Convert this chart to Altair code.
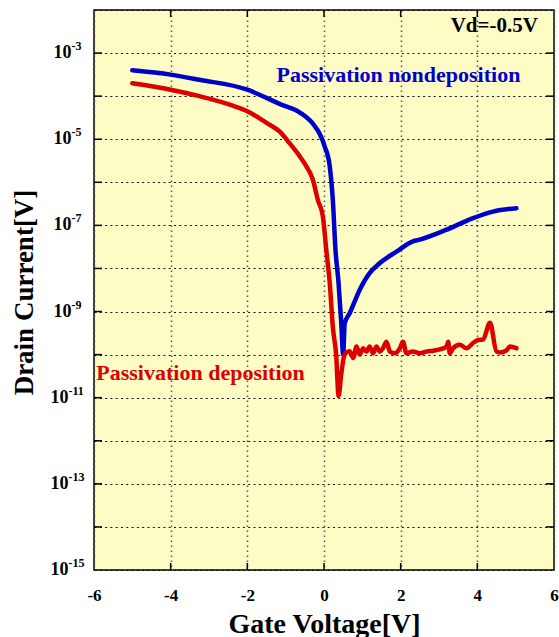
import altair as alt
import pandas as pd

# ---- data (gate voltage [V], log10 of drain current) ----
blue_vg = [-5.0, -4.0, -3.25, -2.0, -1.5, -1.16, -0.63, -0.29, -0.11, 0.02, 0.15, 0.23,
           0.30, 0.38, 0.45, 0.50, 0.54, 0.67, 0.93, 1.19, 1.45, 1.89, 2.32, 2.50, 3.20,
           3.89, 4.41, 5.02]
blue_log = [-3.40, -3.50, -3.62, -3.85, -4.04, -4.18, -4.38, -4.64, -4.88, -5.17, -5.63, -6.41,
            -7.57, -8.34, -9.27, -10.0, -9.27, -9.04, -8.50, -8.11, -7.88, -7.61, -7.37, -7.33, -7.10,
            -6.83, -6.68, -6.60]

red_vg = [-5.0, -4.0, -3.25, -2.38, -2.0, -1.5, -1.16, -0.9, -0.63, -0.46, -0.29, -0.16,
          -0.03, 0.06, 0.15, 0.23, 0.32, 0.38, 0.45, 0.52, 0.58, 0.67, 0.76, 0.85, 0.93,
          1.02, 1.11, 1.19, 1.28, 1.37, 1.45, 1.54, 1.63, 1.72, 1.85, 1.98, 2.06, 2.15,
          2.32, 2.50, 2.67, 2.85, 3.02, 3.20, 3.24, 3.28, 3.37, 3.54, 3.72, 3.89, 4.02,
          4.15, 4.33, 4.50, 4.59, 4.76, 4.85, 5.02]
red_log = [-3.70, -3.85, -4.00, -4.22, -4.35, -4.62, -4.82, -5.09, -5.40, -5.63, -5.94, -6.41,
           -6.79, -7.57, -8.34, -9.35, -10.04, -10.96, -10.45, -10.05, -9.95, -9.92, -10.08, -9.81, -10.0,
           -9.85, -9.93, -9.81, -9.97, -9.81, -9.93, -9.85, -9.70, -9.93, -9.97, -9.85, -9.70, -9.97,
           -9.93, -9.97, -9.93, -9.91, -9.88, -9.81, -9.70, -9.97, -9.85, -9.77, -9.85, -9.73, -9.66,
           -9.65, -9.26, -9.93, -9.95, -9.90, -9.81, -9.85]

x_ticks = [-6, -4, -2, 0, 2, 4, 6]
x_inner_ticks = [-4, -2, 0, 2, 4]
y_grid_exp = list(range(-15, -1))
y_inner_exp = list(range(-14, -2))
y_label_exp = [-3, -5, -7, -9, -11, -13, -15]

annotations = [
    {"text": "Vd=-0.5V", "vg": 5.58, "logi": -2.38, "color": "#000000", "align": "right", "size": 21},
    {"text": "Passivation nondeposition", "vg": -1.24, "logi": -3.50, "color": "#0000cc", "align": "left", "size": 22},
    {"text": "Passivation deposition", "vg": -5.94, "logi": -10.43, "color": "#dd0000", "align": "left", "size": 22},
]

FONT = "Liberation Serif"
W, H = 460, 560

rows = []
for v, l in zip(blue_vg, blue_log):
    rows.append({"series": "nondeposition", "Vg": v, "Id": 10 ** l})
for v, l in zip(red_vg, red_log):
    rows.append({"series": "deposition", "Vg": v, "Id": 10 ** l})
df = pd.DataFrame(rows)

xscale = alt.Scale(domain=[-6, 6], nice=False, zero=False)
yscale = alt.Scale(type="log", domain=[1e-15, 1e-2], nice=False)

base_x = alt.X(
    "Vg:Q", scale=xscale,
    axis=alt.Axis(
        values=x_ticks, title="Gate Voltage[V]", grid=True, ticks=False, domain=False,
        gridDash=[1.5, 3.5], gridColor="#555555", gridWidth=1.5,
        labelExpr="datum.value + ''",
        labelFont=FONT, labelFontWeight="bold", labelFontSize=17, labelColor="black",
        labelPadding=17, labelFlush=False, labelOverlap=False,
        titleFont=FONT, titleFontWeight="bold", titleFontSize=28, titleColor="black",
        titleX=230, titleY=62, titleBaseline="alphabetic",
    ),
)
base_y = alt.Y(
    "Id:Q", scale=yscale,
    axis=alt.Axis(
        values=[10.0 ** e for e in y_grid_exp], labels=False, ticks=False, domain=False,
        grid=True, gridDash=[2, 3.3], gridColor="#111111", gridWidth=1.2,
        title="Drain Current[V]", titleFont=FONT, titleFontWeight="bold", titleFontSize=27,
        titleColor="black", titleX=-70, titleY=282, titleBaseline="middle", titleAngle=-90,
    ),
)

lines = alt.Chart(df).mark_line(strokeWidth=4.5, strokeJoin="round", strokeCap="round",
                                interpolate="monotone").encode(
    x=base_x,
    y=base_y,
    color=alt.Color("series:N", scale=alt.Scale(domain=["nondeposition", "deposition"],
                                                range=["#0000cc", "#dd0000"]), legend=None),
    detail="series:N",
)

# inward frame ticks
ytk = pd.DataFrame({"Id": [10.0 ** e for e in y_inner_exp]})
xtk = pd.DataFrame({"Vg": x_inner_ticks})
tick_style = dict(color="black", strokeWidth=1.5)
left_ticks = alt.Chart(ytk).mark_rule(**tick_style).encode(
    y=alt.Y("Id:Q", scale=yscale), x=alt.value(0), x2=alt.value(8))
right_ticks = alt.Chart(ytk).mark_rule(**tick_style).encode(
    y=alt.Y("Id:Q", scale=yscale), x=alt.value(W - 8), x2=alt.value(W))
top_ticks = alt.Chart(xtk).mark_rule(**tick_style).encode(
    x=alt.X("Vg:Q", scale=xscale), y=alt.value(0), y2=alt.value(7))
bottom_ticks = alt.Chart(xtk).mark_rule(**tick_style).encode(
    x=alt.X("Vg:Q", scale=xscale), y=alt.value(H - 7), y2=alt.value(H))

# y tick labels drawn as "10" + superscript exponent
lab_df = pd.DataFrame({"exp": y_label_exp})
lab_df["Id"] = [10.0 ** e for e in y_label_exp]
lab_df["sup"] = [str(e) for e in y_label_exp]
lab_df["short"] = [len(str(e)) <= 2 for e in y_label_exp]

def ylabels(short, anchor):
    src = alt.Chart(lab_df).transform_filter(
        alt.datum.short if short else ~alt.datum.short)
    ten = src.mark_text(font=FONT, fontWeight="bold", fontSize=18, align="right",
                        baseline="middle", color="black", clip=False).encode(
        x=alt.value(anchor), y=alt.Y("Id:Q", scale=yscale), text=alt.value("10"))
    sup = src.mark_text(font=FONT, fontWeight="bold", fontSize=12, align="left",
                        baseline="middle", color="black", dy=-7, clip=False).encode(
        x=alt.value(anchor), y=alt.Y("Id:Q", scale=yscale), text="sup:N")
    return ten + sup

ann_df = pd.DataFrame(annotations)
ann_df["Id"] = [10 ** v for v in ann_df["logi"]]
ann_layers = []
for _, a in ann_df.iterrows():
    ann_layers.append(
        alt.Chart(ann_df[ann_df["text"] == a["text"]]).mark_text(
            font=FONT, fontWeight="bold", fontSize=int(a["size"]), align=str(a["align"]),
            baseline="middle", color=str(a["color"])).encode(
            x=alt.X("vg:Q", scale=xscale), y=alt.Y("Id:Q", scale=yscale), text="text:N")
    )

chart = alt.layer(lines, left_ticks, right_ticks, top_ticks, bottom_ticks,
                  ylabels(True, -22.5), ylabels(False, -25.5), *ann_layers).properties(
    width=W, height=H,
    autosize=alt.AutoSizeParams(type="none"),
    padding={"left": 94, "top": 10, "right": 5, "bottom": 67},
    background="white",
).configure_view(
    fill="#fcfcc4", stroke="black", strokeWidth=1.5
)

chart.save("out.html", embed_options={"renderer": "svg", "actions": False})
